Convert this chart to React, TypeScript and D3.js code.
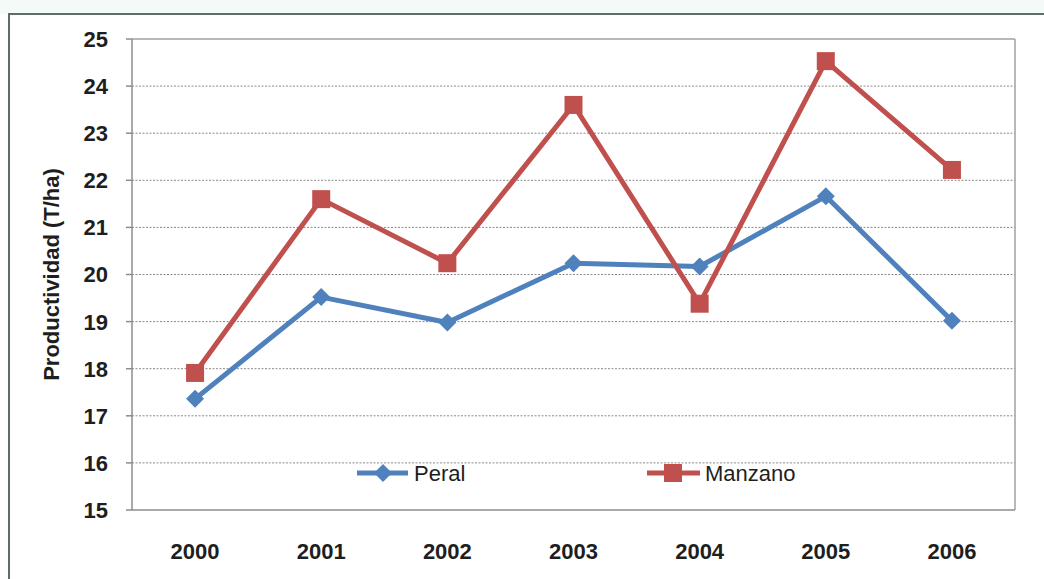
import React from "react";
import * as d3 from "d3";

const years = ["2000", "2001", "2002", "2003", "2004", "2005", "2006"];
const peral = [17.36, 19.52, 18.98, 20.24, 20.17, 21.66, 19.02];
const manzano = [17.91, 21.6, 20.24, 23.6, 19.38, 24.53, 22.22];
const yTicks = [15, 16, 17, 18, 19, 20, 21, 22, 23, 24, 25];
const seriesNames = ["Peral", "Manzano"];

const W = 1044, H = 579;
const plot = { left: 132, right: 1015, top: 39, bottom: 510 };
const BLUE = "#4F81BD";
const RED = "#C0504D";
const FONT = "'Liberation Sans', Arial, sans-serif";
const TXT = "#1e1e1e";

export default function App() {
  const x = d3.scaleBand().domain(years).range([plot.left, plot.right]);
  const y = d3.scaleLinear().domain([15, 25]).range([plot.bottom, plot.top]);
  const cx = (yr: string) => (x(yr) as number) + x.bandwidth() / 2;
  const line = d3.line<number>().x((_, i) => cx(years[i])).y((d) => y(d));
  const diamond = (px: number, py: number, r: number) =>
    `M${px},${py - r}L${px + r},${py}L${px},${py + r}L${px - r},${py}Z`;

  return (
    <svg width={W} height={H} style={{ position: "absolute", left: 0, top: 0, background: "#fff" }}>
      <rect x={0} y={0} width={W} height={14} fill="#f3faf7" />
      <rect x={9} y={14} width={1100} height={700} fill="#fff" stroke="#5e6e62" strokeWidth={2} />
      {/* gridlines */}
      {yTicks.filter((t) => t !== 15 && t !== 25).map((t) => (
        <line key={t} x1={plot.left} x2={plot.right} y1={y(t)} y2={y(t)} stroke="#8a8a8a" strokeWidth={1} strokeDasharray="2,1.5" />
      ))}
      {/* plot border */}
      <line x1={plot.left} x2={plot.right} y1={plot.top} y2={plot.top} stroke="#a0a0a0" strokeWidth={1.5} />
      <line x1={plot.right} x2={plot.right} y1={plot.top} y2={plot.bottom} stroke="#a0a0a0" strokeWidth={1.5} />
      <line x1={plot.left} x2={plot.left} y1={plot.top} y2={plot.bottom} stroke="#8c8c8c" strokeWidth={1.5} />
      <line x1={plot.left} x2={plot.right} y1={plot.bottom} y2={plot.bottom} stroke="#8c8c8c" strokeWidth={1.5} />
      {/* y ticks */}
      {yTicks.map((t) => (
        <g key={t}>
          <line x1={plot.left - 6} x2={plot.left} y1={y(t)} y2={y(t)} stroke="#8c8c8c" strokeWidth={1.5} />
          <text x={108} y={y(t)} dy="0.36em" textAnchor="end" fontFamily={FONT} fontWeight="bold" fontSize={22} fill={TXT}>{t}</text>
        </g>
      ))}
      {/* x labels */}
      {years.map((yr) => (
        <text key={yr} x={cx(yr)} y={559} textAnchor="middle" fontFamily={FONT} fontWeight="bold" fontSize={22} fill={TXT}>{yr}</text>
      ))}
      <text transform={`translate(59,${(plot.top + plot.bottom) / 2}) rotate(-90)`} textAnchor="middle" fontFamily={FONT} fontWeight="bold" fontSize={22} fill={TXT}>Productividad (T/ha)</text>
      {/* series */}
      <path d={line(peral) as string} fill="none" stroke={BLUE} strokeWidth={5} strokeLinejoin="round" />
      <path d={line(manzano) as string} fill="none" stroke={RED} strokeWidth={5} strokeLinejoin="round" />
      {peral.map((v, i) => (
        <path key={i} d={diamond(cx(years[i]), y(v), 9)} fill={BLUE} />
      ))}
      {manzano.map((v, i) => (
        <rect key={i} x={cx(years[i]) - 9} y={y(v) - 9} width={18} height={18} fill={RED} />
      ))}
      {/* legend */}
      <line x1={357} x2={408} y1={473} y2={473} stroke={BLUE} strokeWidth={5} />
      <path d={diamond(383, 473, 9)} fill={BLUE} />
      <text x={414} y={473} dy="0.36em" fontFamily={FONT} fontSize={22} fill={TXT}>{seriesNames[0]}</text>
      <line x1={647} x2={700} y1={473} y2={473} stroke={RED} strokeWidth={5} />
      <rect x={664} y={464} width={18} height={18} fill={RED} />
      <text x={705} y={473} dy="0.36em" fontFamily={FONT} fontSize={22} fill={TXT}>{seriesNames[1]}</text>
    </svg>
  );
}
